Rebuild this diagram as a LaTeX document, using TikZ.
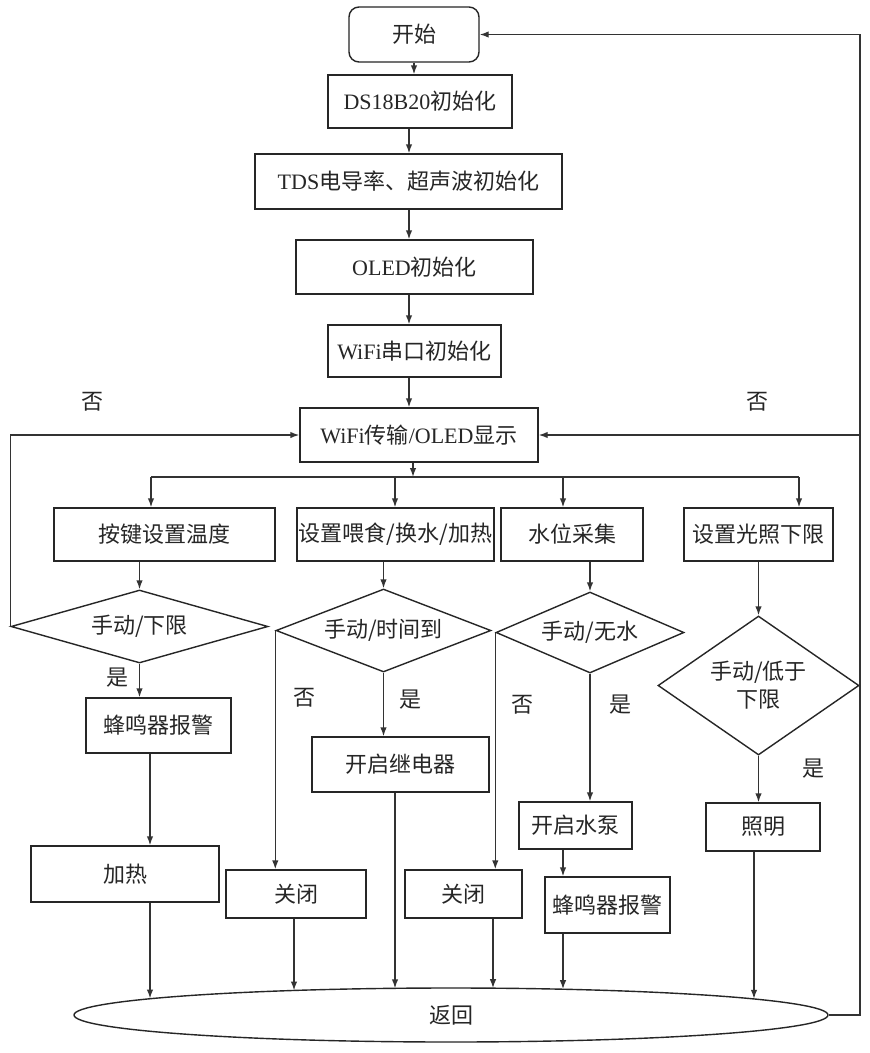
\documentclass[tikz,border=0pt]{standalone}
\usepackage{fontspec}
\setmainfont{Liberation Serif}
\newfontfamily\cjk{Noto Sans CJK SC}
\newfontfamily\lat{Liberation Serif}
\usetikzlibrary{shapes.geometric,arrows.meta}
\begin{document}
\begin{tikzpicture}[x=1pt,y=-1pt,
  base/.style={font=\cjk\fontsize{22}{28}\selectfont, inner sep=0pt, line width=1.4pt, draw=black!85, text=black!85},
  proc/.style={base, rectangle, draw},
  dec/.style={base, diamond, draw, align=center},
  lbl/.style={font=\cjk\fontsize{22}{26}\selectfont, inner sep=0pt, text=black!85},
  arr/.style={line width=1.4pt, draw=black!80, -{Latex[length=9pt,width=6.5pt]}},
  ln/.style={line width=1.4pt, draw=black!80}]
\useasboundingbox (0,0) rectangle (870,1053);
\fill[white] (0,0) rectangle (870,1053);

% main column
\node[proc, rounded corners=10pt, minimum width=130pt, minimum height=55pt] (start) at (414,34.5) {开始};
\node[proc, minimum width=184pt, minimum height=53pt] (ds) at (420,101.5) {{\lat DS18B20}初始化};
\node[proc, minimum width=307pt, minimum height=55pt] (tds) at (408.5,181.5) {{\lat TDS}电导率、超声波初始化};
\node[proc, minimum width=237pt, minimum height=54pt] (oled) at (414.5,267) {{\lat OLED}初始化};
\node[proc, minimum width=173pt, minimum height=52pt] (wser) at (414.5,351) {{\lat WiFi}串口初始化};
\node[proc, minimum width=238pt, minimum height=54pt] (wdisp) at (419,435) {{\lat WiFi}传输{\lat /OLED}显示};

% row of tasks
\node[proc, minimum width=221pt, minimum height=53pt] (key) at (164.5,534.5) {按键设置温度};
\node[proc, minimum width=197pt, minimum height=53pt] (feed) at (395.5,534.5) {设置喂食/换水/加热};
\node[proc, minimum width=142pt, minimum height=53pt] (level) at (572,534.5) {水位采集};
\node[proc, minimum width=149pt, minimum height=53pt] (lightset) at (758.5,534.5) {设置光照下限};

% decisions
\node[dec, aspect=3.52, minimum width=257pt, minimum height=73pt] (d1) at (139.5,626.5) {手动/下限};
\node[dec, aspect=2.59, minimum width=215pt, minimum height=83pt] (d2) at (383.5,630.5) {手动/时间到};
\node[dec, aspect=2.32, minimum width=188pt, minimum height=81pt] (d3) at (590,632.5) {手动/无水};
\node[dec, aspect=1.45, minimum width=201pt, minimum height=139pt] (d4) at (758.5,685.5) {手动/低于\\下限};

% actions
\node[proc, minimum width=145pt, minimum height=55pt] (bz1) at (158.5,725.5) {蜂鸣器报警};
\node[proc, minimum width=188pt, minimum height=56pt] (heat) at (125,874) {加热};
\node[proc, minimum width=140pt, minimum height=48pt] (off1) at (296,894) {关闭};
\node[proc, minimum width=177pt, minimum height=55pt] (relay) at (400.5,764.5) {开启继电器};
\node[proc, minimum width=117pt, minimum height=48pt] (off2) at (463.5,894) {关闭};
\node[proc, minimum width=113pt, minimum height=47pt] (pump) at (575.5,825.5) {开启水泵};
\node[proc, minimum width=125pt, minimum height=56pt] (bz2) at (607.5,905) {蜂鸣器报警};
\node[proc, minimum width=114pt, minimum height=48pt] (lamp) at (763,827) {照明};
\node[base, ellipse, draw, minimum width=754pt, minimum height=54pt] (ret) at (451,1015) {返回};

% labels
\node[lbl] (no1) at (92,402) {否};
\node[lbl] (no2) at (757,402) {否};
\node[lbl] (yes1) at (117,678) {是};
\node[lbl] (no3) at (304,698) {否};
\node[lbl] (yes2) at (410,700) {是};
\node[lbl] (no4) at (522,705) {否};
\node[lbl] (yes3) at (620,705) {是};
\node[lbl] (yes4) at (813,769) {是};

% helper coordinates
\coordinate (sp) at (409,0);
\coordinate (bm) at (413,477);
\coordinate (busL) at (151,477);
\coordinate (bx2) at (395,477);
\coordinate (bx3) at (563,477);
\coordinate (busR) at (799,477);
\coordinate (e1) at (150,998.5);
\coordinate (e2) at (294,990.5);
\coordinate (e3) at (395,988.3);
\coordinate (e4) at (493,988.2);
\coordinate (e5) at (563,989.2);
\coordinate (e6) at (754,998.8);
\coordinate (rr) at (860,34.5);

% main column arrows
\draw[arr] (start.south) -- (start.south |- ds.north);
\draw[arr] (ds.south -| sp) -- (tds.north -| sp);
\draw[arr] (tds.south -| sp) -- (oled.north -| sp);
\draw[arr] (oled.south -| sp) -- (wser.north -| sp);
\draw[arr] (wser.south -| sp) -- (wdisp.north -| sp);

% bus
\draw[arr] (wdisp.south -| bm) -- (bm);
\draw[ln] (busL) -- (busR);
\draw[arr] (busL) -- (busL |- key.north);
\draw[arr] (bx2) -- (bx2 |- feed.north);
\draw[arr] (bx3) -- (bx3 |- level.north);
\draw[arr] (busR) -- (busR |- lightset.north);

% to decisions
\draw[arr] (key.south -| d1.north) -- (d1.north);
\draw[arr] (feed.south -| d2.north) -- (d2.north);
\draw[arr] (level.south -| d3.north) -- (d3.north);
\draw[arr] (lightset.south -| d4.north) -- (d4.north);

% loops back
\draw[arr] (d1.west) |- (wdisp.west);
\draw[arr] (d4.east) |- (wdisp.east);

% branches
\draw[arr] (d1.south) -- (d1.south |- bz1.north);
\draw[arr] (bz1.south -| e1) -- (heat.north -| e1);
\draw[arr] (d2.west) -- (d2.west |- off1.north);
\draw[arr] (d2.south) -- (d2.south |- relay.north);
\draw[arr] (d3.west) -- (d3.west |- off2.north);
\draw[arr] (d3.south) -- (d3.south |- pump.north);
\draw[arr] (pump.south -| e5) -- (bz2.north -| e5);
\draw[arr] (d4.south) -- (d4.south |- lamp.north);

% into return
\draw[arr] (heat.south -| e1) -- (e1);
\draw[arr] (off1.south -| e2) -- (e2);
\draw[arr] (relay.south -| e3) -- (e3);
\draw[arr] (off2.south -| e4) -- (e4);
\draw[arr] (bz2.south -| e5) -- (e5);
\draw[arr] (lamp.south -| e6) -- (e6);

% return to start
\draw[arr] (ret.east) -| (rr) -- (start.east);
\end{tikzpicture}
\end{document}
